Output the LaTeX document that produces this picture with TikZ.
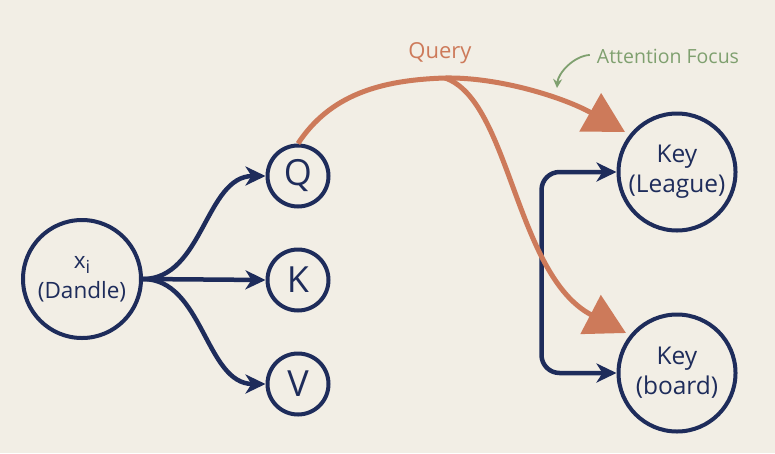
\documentclass[tikz,border=0pt]{standalone}
\usepackage{fontspec}
\setmainfont{Open Sans}
\usetikzlibrary{arrows.meta}
\definecolor{bg}{HTML}{F2EEE5}
\definecolor{navy}{HTML}{1E2C5B}
\definecolor{rust}{HTML}{CD7A5A}
\definecolor{sage}{HTML}{7FA06F}
\begin{document}
\begin{tikzpicture}[x=1pt,y=-1pt,
  circ/.style={circle, draw=navy, line width=4pt, text=navy, inner sep=0pt,
    minimum size=#1, align=center},
  navyedge/.style={draw=navy, line width=4.5pt,
    -{Stealth[length=20pt,width=19pt,inset=6pt]}},
  bothedge/.style={draw=navy, line width=4.5pt,
    {Stealth[length=20pt,width=19pt,inset=6pt]}-{Stealth[length=20pt,width=19pt,inset=6pt]}},
  rustedge/.style={draw=rust, line width=5pt,
    -{Triangle[length=40pt,width=43pt]}},
  lbl/.style={anchor=base, inner sep=0pt}
]
\fill[bg] (0,0) rectangle (775,453);
\useasboundingbox (0,0) rectangle (775,453);

\node[circ=118pt, font=\fontsize{22.5}{30}\selectfont] (x) at (82,279)
  {x\raisebox{-5pt}{\fontsize{18}{18}\selectfont i}\\(Dandle)};
\node[circ=61pt, font=\fontsize{36}{36}\selectfont] (q) at (298,176) {Q};
\node[circ=61pt, font=\fontsize{36}{36}\selectfont] (k) at (298,280) {K};
\node[circ=61pt, font=\fontsize{36}{36}\selectfont] (v) at (298,384) {V};
\node[circ=117pt, font=\fontsize{24.5}{30}\selectfont] (kl) at (677,172) {Key\\(League)};
\node[circ=117pt, font=\fontsize{24.5}{30}\selectfont] (kb) at (677,373) {Key\\(board)};

\draw[navyedge] (x.east) .. controls +(60,0) and +(-60,0) .. (q.west);
\draw[navyedge] (x.east) -- (k.west);
\draw[navyedge] (x.east) .. controls +(60,0) and +(-60,0) .. (v.west);

\draw[bothedge, rounded corners=18pt] (kl.west) -- ++(-75,0) |- (kb.west);

\coordinate (split) at (445,78);
\coordinate (t1) at (625,132);
\coordinate (t2) at (626,333);
\draw[rustedge] (q.north) .. controls (330,95) and (380,80) .. (split)
  .. controls (500,77) and (565,98) .. (t1);
\draw[rustedge] (split) .. controls (510,100) and (515,275) .. (t2);

\node[lbl, text=rust, font=\fontsize{22}{22}\selectfont] (query) at (440,58) {Query};
\node[lbl, text=sage, font=\fontsize{19.5}{20}\selectfont] (af) at (668,63) {Attention Focus};
\coordinate (afend) at (557,88);
\draw[sage, line width=1.8pt, -{Stealth[length=9pt,width=9pt,inset=3pt]}]
  ([xshift=-7pt,yshift=1pt]af.west) .. controls +(-16,1) and +(1,-15) .. (afend);
\end{tikzpicture}
\end{document}
